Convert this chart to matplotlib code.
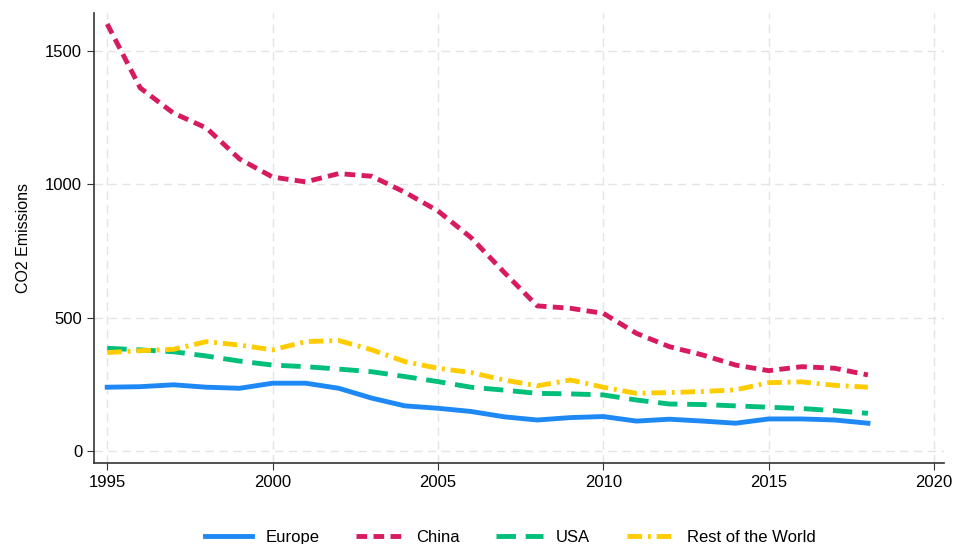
import matplotlib

matplotlib.use("Agg")
import matplotlib.pyplot as plt

plt.rcParams["font.family"] = ["Liberation Sans", "DejaVu Sans"]

years = list(range(1995, 2019))
europe = [239, 241, 248, 239, 235, 254, 254, 235, 198, 169, 160, 148, 128, 116,
          125, 129, 112, 119, 112, 104, 120, 120, 116, 104]
china = [1601, 1361, 1267, 1211, 1095, 1027, 1009, 1040, 1030, 970, 900, 800,
         670, 544, 535, 516, 441, 391, 360, 322, 301, 316, 310, 285]
usa = [385, 379, 372, 356, 337, 322, 316, 307, 297, 279, 260, 239, 228, 216,
       214, 210, 191, 176, 174, 169, 164, 159, 151, 141]
rest = [369, 376, 381, 410, 397, 379, 410, 414, 379, 335, 310, 294, 266, 244,
        266, 239, 216, 219, 223, 229, 256, 259, 246, 239]

xticks = [1995, 2000, 2005, 2010, 2015, 2020]
yticks = [0, 500, 1000, 1500]

fig = plt.figure(figsize=(9.54, 5.44), dpi=100)
ax = fig.add_axes([0.0985, 0.149, 0.891, 0.827])

ax.plot(years, europe, color="#1e88f5", lw=3.5, ls="-", label="Europe")
ax.plot(years, china, color="#d81b60", lw=3.5, ls=(0, (2.2, 1.3)), label="China")
ax.plot(years, usa, color="#00bf7a", lw=3.5, ls=(0, (4, 2)), label="USA")
ax.plot(years, rest, color="#ffcc00", lw=3.5, ls=(0, (3, 1.2, 0.6, 1.2)),
        label="Rest of the World")

ax.set_xlim(1994.6, 2020.3)
ax.set_ylim(-45, 1642)
ax.set_xticks(xticks)
ax.set_yticks(yticks)
ax.tick_params(labelsize=12, length=5, color="#333333")
ax.grid(True, color="#e4e4e4", ls=(0, (6, 4)), lw=1)
ax.set_axisbelow(True)
for s in ["top", "right"]:
    ax.spines[s].set_visible(False)
for s in ["left", "bottom"]:
    ax.spines[s].set_color("#333333")
    ax.spines[s].set_linewidth(1.2)

ax.set_ylabel("CO2 Emissions", fontsize=11.5, labelpad=10)

fig.legend(loc="lower center", bbox_to_anchor=(0.535, -0.03), ncol=4,
           frameon=False, fontsize=12, handlelength=2.8, columnspacing=2.2,
           handletextpad=0.8)

fig.savefig("out.png", dpi=100)
